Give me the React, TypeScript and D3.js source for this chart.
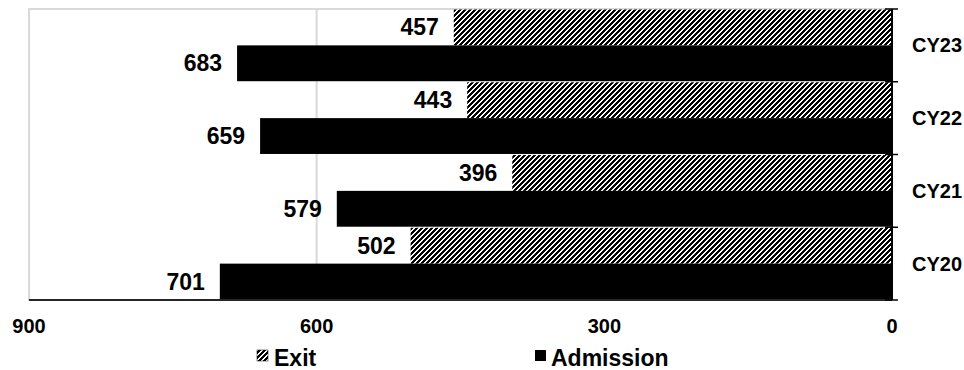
import React from "react";
import * as d3 from "d3";

const categories = ["CY23", "CY22", "CY21", "CY20"];
const exitValues = [457, 443, 396, 502];
const admissionValues = [683, 659, 579, 701];
const seriesNames = ["Exit", "Admission"];
const xTicks = [900, 600, 300, 0];

const W = 964;
const H = 370;
const FONT = "'Liberation Sans', Arial, sans-serif";

export default function App() {
  const left = 29, right = 892, top = 9, bottom = 300;
  const x = d3.scaleLinear().domain([900, 0]).range([left, right]);
  const y = d3.scaleBand<string>().domain(categories).range([top, bottom]).padding(0);
  const sub = d3.scaleBand<string>().domain(seriesNames).range([0, y.bandwidth()]).paddingInner(0).paddingOuter(0.015);

  const rows = categories.map((c, i) => ({ c, exit: exitValues[i], adm: admissionValues[i] }));

  return (
    <svg width={W} height={H} style={{ position: "absolute", left: 0, top: 0, background: "#fff" }}>
      <defs>
        <pattern id="hatch" patternUnits="userSpaceOnUse" width={5} height={5}>
          <rect width={5} height={5} fill="#fff" />
          <path d="M-1,1 L1,-1 M0,5 L5,0 M4,6 L6,4" stroke="#000" strokeWidth={2.2} shapeRendering="crispEdges" />
        </pattern>
      </defs>
      {/* plot border */}
      <rect x={left} y={top} width={right - left} height={bottom - top} fill="none" stroke="#d9d9d9" strokeWidth={2} />
      {/* gridlines */}
      {xTicks.filter((t) => t !== 0 && t !== 900).map((t) => (
        <line key={t} x1={x(t)} x2={x(t)} y1={top} y2={bottom} stroke="#d9d9d9" strokeWidth={2} />
      ))}
      {/* bars */}
      {rows.map((r) => {
        const y0 = y(r.c)!;
        const ye = y0 + sub("Exit")!;
        const ya = y0 + sub("Admission")!;
        const bh = sub.bandwidth();
        return (
          <g key={r.c}>
            <rect x={x(r.exit)} y={ye} width={x(0) - x(r.exit)} height={bh} fill="url(#hatch)" />
            <rect x={x(r.adm)} y={ya} width={x(0) - x(r.adm)} height={bh} fill="#000" />
            <text x={x(r.exit) - 15} y={ye + bh / 2 + 8} textAnchor="end" fontFamily={FONT} fontWeight="bold" fontSize={23} fill="#000">{r.exit}</text>
            <text x={x(r.adm) - 15} y={ya + bh / 2 + 8} textAnchor="end" fontFamily={FONT} fontWeight="bold" fontSize={23} fill="#000">{r.adm}</text>
            <text x={912} y={y0 + y.bandwidth() / 2 + 7} fontFamily={FONT} fontWeight="bold" fontSize={20} fill="#000">{r.c}</text>
          </g>
        );
      })}
      {/* bottom axis */}
      <line x1={left} x2={right} y1={bottom} y2={bottom} stroke="#262626" strokeWidth={2} />
      {/* right axis */}
      <line x1={right} x2={right} y1={top} y2={bottom} stroke="#000" strokeWidth={2} />
      {[...categories.map((c) => y(c)!), bottom].map((v, i) => (
        <line key={i} x1={right - 7} x2={right + 6} y1={v} y2={v} stroke="#000" strokeWidth={1.5} />
      ))}
      {xTicks.map((t) => (
        <text key={t} x={x(t)} y={333} textAnchor="middle" fontFamily={FONT} fontWeight="bold" fontSize={20} fill="#000">{t}</text>
      ))}
      {/* legend */}
      <rect x={257} y={350} width={11} height={11} fill="url(#hatch)" stroke="#000" strokeWidth={0.5} />
      <text x={274} y={366} fontFamily={FONT} fontWeight="bold" fontSize={23} fill="#000">Exit</text>
      <rect x={535} y={350} width={11} height={11} fill="#000" />
      <text x={551} y={366} fontFamily={FONT} fontWeight="bold" fontSize={23} fill="#000">Admission</text>
    </svg>
  );
}
